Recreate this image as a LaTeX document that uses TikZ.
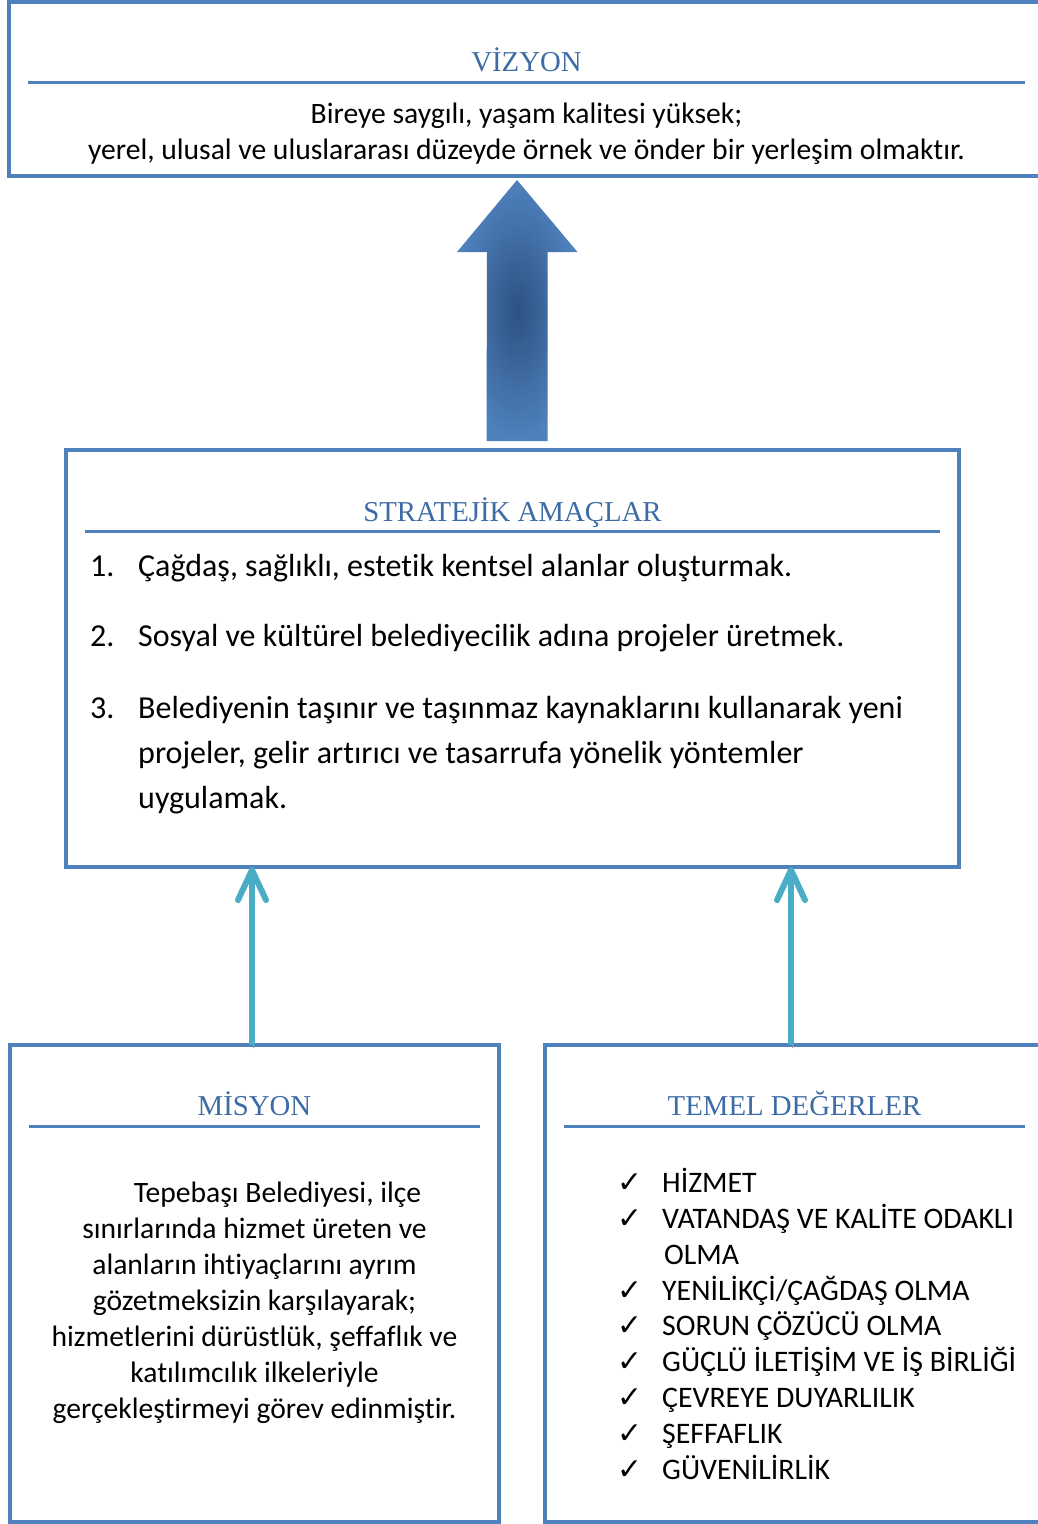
\documentclass[tikz,border=0pt]{standalone}
\usepackage{fontspec}
\setmainfont{Carlito}[Ligatures=NoCommon]
\newfontfamily\headfont{Liberation Serif}
\newfontfamily\checkfont{DejaVu Sans}
\usepackage{tikz}
\usetikzlibrary{arrows.meta, positioning, calc}
\definecolor{frameblue}{HTML}{4F81BD}
\definecolor{headblue}{HTML}{3C6BA5}
\definecolor{arrowteal}{HTML}{4BACC6}
\definecolor{arrowdark}{HTML}{2C5282}
\definecolor{shadowgrey}{HTML}{9A9A9A}
\newcommand{\baslikcizgi}[2]{\draw[rule] ($(#1.west |- #2)+(19,0)$) -- ($(#1.east |- #2)+(-19,0)$);}

\begin{document}
\begin{tikzpicture}[x=1pt, y=-1pt,
  frame/.style={draw=frameblue, line width=4pt, outer sep=0pt, inner sep=0pt},
  heading/.style={font=\headfont\fontsize{28.8}{32}\selectfont, text=headblue, inner sep=0pt, anchor=base},
  bodytext/.style={font=\fontsize{29.6}{36}\selectfont, align=center, inner sep=0pt, anchor=base},
  itemtext/.style={font=\fontsize{32}{45}\selectfont, align=left, inner sep=0pt, anchor=base west},
  valuetext/.style={font=\fontsize{29.8}{35.8}\selectfont, align=left, inner sep=0pt, anchor=base west},
  rule/.style={draw=frameblue, line width=3pt},
  bigarrow/.style={inner color=arrowdark, outer color=frameblue},
  uparrow/.style={draw=arrowteal, line width=6pt, -{Straight Barb[length=30pt, width=28pt, round]},
    preaction={draw=shadowgrey, -{Straight Barb[length=30pt, width=28pt, round]},
      transform canvas={shift={(1pt,-3pt)}}}}]
  \useasboundingbox (0,0) rectangle (1038,1524);
  \clip (0,0) rectangle (1038,1524);

  % frames
  \node[frame, minimum width=1035pt, minimum height=174pt] (vizyon) at (526.5,89) {};
  \node[frame, minimum width=893pt, minimum height=417pt] (amaclar) at (512.5,658.5) {};
  \node[frame, minimum width=489pt, minimum height=477pt] (misyon) at (254.5,1283.5) {};
  \node[frame, minimum width=499pt, minimum height=477pt] (temel) at (794.5,1283.5) {};

  % headings
  \node[heading] (vizbaslik) at ($(vizyon.north)+(0,69)$) {VİZYON};
  \node[heading] (amacbaslik) at ($(amaclar.north)+(0,71)$) {STRATEJİK AMAÇLAR};
  \node[heading] (misbaslik) at ($(misyon.north)+(0,70)$) {MİSYON};
  \node[heading] (temelbaslik) at ($(temel.north)+(0,70)$) {TEMEL DEĞERLER};
  \coordinate (vizcizgi) at ($(vizbaslik.base)+(0,11)$);
  \coordinate (amaccizgi) at ($(amacbaslik.base)+(0,10)$);
  \coordinate (miscizgi) at ($(misbaslik.base)+(0,11)$);
  \coordinate (temelcizgi) at ($(temelbaslik.base)+(0,11)$);
  \baslikcizgi{vizyon}{vizcizgi}
  \baslikcizgi{amaclar}{amaccizgi}
  \baslikcizgi{misyon}{miscizgi}
  \baslikcizgi{temel}{temelcizgi}

  % texts (base = last line)
  \node[bodytext] (vizmetin) at ($(vizbaslik.base)+(0,88)$)
    {Bireye saygılı, yaşam kalitesi yüksek;\\yerel, ulusal ve uluslararası düzeyde örnek ve önder bir yerleşim olmaktır.};
  \node[itemtext] (amac1) at ($(amaclar.north west)+(24,126)$)
    {\makebox[48pt][l]{1.}Çağdaş, sağlıklı, estetik kentsel alanlar oluşturmak.};
  \node[itemtext] (amac2) at ($(amac1.base west)+(0,70)$)
    {\makebox[48pt][l]{2.}Sosyal ve kültürel belediyecilik adına projeler üretmek.};
  \node[itemtext] (amac3) at ($(amac2.base west)+(0,162)$)
    {\makebox[48pt][l]{3.}Belediyenin taşınır ve taşınmaz kaynaklarını kullanarak yeni\\
     \hspace*{48pt}projeler, gelir artırıcı ve tasarrufa yönelik yöntemler\\
     \hspace*{48pt}uygulamak.};
  \node[bodytext] (mismetin) at ($(misbaslik.base)+(0,303)$)
    {\hspace*{46pt}Tepebaşı Belediyesi, ilçe\\sınırlarında hizmet üreten ve\\alanların ihtiyaçlarını ayrım\\
     gözetmeksizin karşılayarak;\\hizmetlerini dürüstlük, şeffaflık ve\\katılımcılık ilkeleriyle\\
     gerçekleştirmeyi görev edinmiştir.};
  \node[valuetext] (degerler) at ($(temel.north west)+(72,434)$)
    {\makebox[45pt][l]{\checkfont ✓}HİZMET\\
     \makebox[45pt][l]{\checkfont ✓}VATANDAŞ VE KALİTE ODAKLI\\
     \hspace*{47pt}OLMA\\
     \makebox[45pt][l]{\checkfont ✓}YENİLİKÇİ/ÇAĞDAŞ OLMA\\
     \makebox[45pt][l]{\checkfont ✓}SORUN ÇÖZÜCÜ OLMA\\
     \makebox[45pt][l]{\checkfont ✓}GÜÇLÜ İLETİŞİM VE İŞ BİRLİĞİ\\
     \makebox[45pt][l]{\checkfont ✓}ÇEVREYE DUYARLILIK\\
     \makebox[45pt][l]{\checkfont ✓}ŞEFFAFLIK\\
     \makebox[45pt][l]{\checkfont ✓}GÜVENİLİRLİK};

  % arrows
  \coordinate (okkuyruk) at ($(amaclar.north)+(4.5,-9)$);
  \coordinate (okucu) at ($(vizyon.south)+(-9.5,4)$);
  \shade[bigarrow] (okkuyruk) ++(-30.5,0) -- ++(61,0) -- ++(0,-189) -- ++(30,0)
    -- (okucu) -- ++(-60,72) -- ++(30,0) -- cycle;
  \draw[uparrow] ($(misyon.north)+(-2.5,0)$) -- ($(misyon.north |- amaclar.south)+(-2.5,0)$);
  \draw[uparrow] ($(temel.north)+(-3.5,0)$) -- ($(temel.north |- amaclar.south)+(-3.5,0)$);
\end{tikzpicture}
\end{document}
